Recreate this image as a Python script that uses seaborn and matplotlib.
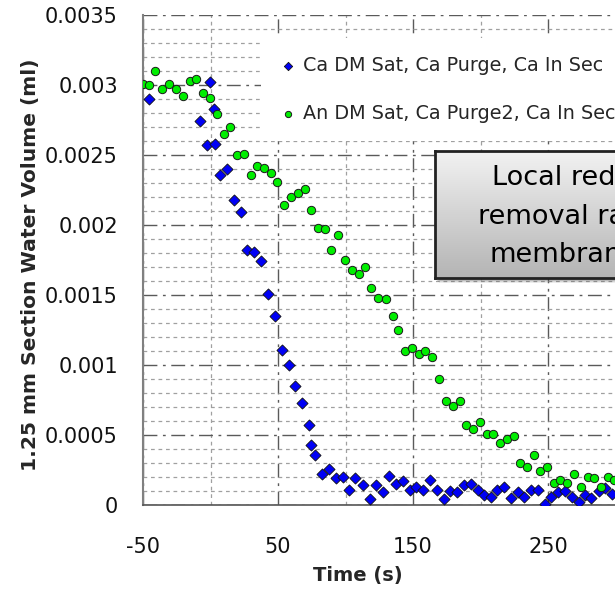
import numpy as np
import pandas as pd
import matplotlib
matplotlib.use("Agg")
import matplotlib.pyplot as plt
import seaborn as sns
from matplotlib.patches import Rectangle
from matplotlib.colors import LinearSegmentedColormap

# data
ca_time = [-45.3, -7.5, -2.4, -0.2, 2.3, 3.0, 7.4, 12.5, 17.5, 22.8, 27.0, 32.4, 37.4,
           42.6, 47.6, 53.0, 57.9, 62.7, 67.6, 72.8, 74.7, 77.3, 82.3, 87.5, 92.9, 97.9,
           102.3, 107.3, 112.7, 117.9, 122.7, 127.9, 132.4, 137.4, 142.6, 147.5, 152.2,
           157.3, 162.4, 167.8, 173.0, 177.6, 182.6, 187.5, 192.7, 197.9, 202.8, 207.5,
           212.4, 217.4, 222.6, 227.5, 232.4, 237.4, 242.3, 247.5, 252.4, 257.4, 262.3,
           267.8, 272.7, 277.1, 282.1, 287.5, 292.4, 297.4]
ca_volume = [0.00290, 0.00274, 0.00257, 0.00302, 0.00283, 0.00258, 0.00236, 0.00240,
             0.00218, 0.00209, 0.00182, 0.00181, 0.00174, 0.00151, 0.00135, 0.00111,
             0.00100, 0.00085, 0.00073, 0.00057, 0.00043, 0.00036, 0.00022, 0.00026,
             0.00019, 0.00020, 0.00011, 0.00019, 0.00014, 0.00004, 0.00014, 0.00009,
             0.00021, 0.00015, 0.00017, 0.00011, 0.00013, 0.00011, 0.00018, 0.00011,
             0.00004, 0.00010, 0.00009, 0.00014, 0.00015, 0.00011, 0.00007, 0.00006,
             0.00011, 0.00013, 0.00005, 0.00009, 0.00006, 0.00011, 0.00011, 0.00001,
             0.00006, 0.00009, 0.00010, 0.00006, 0.00002, 0.00007, 0.00005, 0.00010,
             0.00012, 0.00008]

an_time = [-50.0, -45.3, -40.9, -35.7, -30.5, -25.3, -20.4, -15.0, -10.5, -5.6, -0.2,
           4.8, 10.2, 14.2, 19.6, 24.8, 30.0, 34.7, 39.4, 44.5, 49.5, 54.7, 59.6, 64.8,
           69.7, 74.7, 79.6, 85.0, 89.4, 94.4, 99.3, 104.8, 110.0, 114.4, 119.1, 124.3,
           129.7, 134.9, 139.1, 144.3, 149.5, 154.2, 159.1, 164.3, 169.5, 174.4, 179.6,
           184.8, 189.3, 194.3, 199.4, 204.5, 209.0, 214.7, 219.3, 224.5, 229.5, 234.4,
           239.3, 244.3, 249.3, 254.2, 259.1, 264.1, 269.3, 274.4, 279.6, 284.3, 289.3,
           294.4, 299.1]
an_volume = [0.00301, 0.00300, 0.00310, 0.00297, 0.00301, 0.00297, 0.00292, 0.00303,
             0.00304, 0.00294, 0.00291, 0.00279, 0.00265, 0.00270, 0.00250, 0.00251,
             0.00236, 0.00242, 0.00241, 0.00237, 0.00231, 0.00214, 0.00220, 0.00223,
             0.00226, 0.00211, 0.00198, 0.00197, 0.00182, 0.00193, 0.00175, 0.00168,
             0.00165, 0.00170, 0.00155, 0.00148, 0.00147, 0.00135, 0.00125, 0.00110,
             0.00112, 0.00108, 0.00110, 0.00106, 0.00090, 0.00074, 0.00071, 0.00074,
             0.00057, 0.00054, 0.00059, 0.00051, 0.00051, 0.00044, 0.00047, 0.00049,
             0.00030, 0.00027, 0.00036, 0.00024, 0.00027, 0.00016, 0.00018, 0.00016,
             0.00022, 0.00013, 0.00020, 0.00019, 0.00013, 0.00020, 0.00018]

ca_label = "Ca DM Sat, Ca Purge, Ca In Sec"
an_label = "An DM Sat, Ca Purge2, Ca In Sec"

x_major = [-50, 50, 150, 250]
x_minor = [0, 100, 200, 300]
y_ticks = [0, 0.0005, 0.001, 0.0015, 0.002, 0.0025, 0.003, 0.0035]
y_labels = ["0", "0.0005", "0.001", "0.0015", "0.002", "0.0025", "0.003", "0.0035"]
note_lines = ["Local reduced", "removal rate", "membrane"]

sns.set_style("white")
plt.rcParams['font.family'] = ['DejaVu Sans']
plt.rcParams['axes.unicode_minus'] = False

W, H = 615, 593
fig = plt.figure(figsize=(W / 100, H / 100), dpi=100)
ax = fig.add_axes([143 / W, 88 / H, 540 / W, 490 / H])

ca_df = pd.DataFrame({"time": ca_time, "volume": ca_volume})
an_df = pd.DataFrame({"time": an_time, "volume": an_volume})

sns.scatterplot(data=ca_df, x="time", y="volume", marker="D", s=32, color="#0000f5",
                edgecolor="#111111", linewidth=0.6, label=ca_label, ax=ax, zorder=3)
sns.scatterplot(data=an_df, x="time", y="volume", marker="o", s=36, color="#00ee00",
                edgecolor="#1a1a1a", linewidth=0.7, label=an_label, ax=ax, zorder=3)

ax.set_xlim(-50, 350)
ax.set_ylim(0, 0.0035)
ax.set_xticks(x_major)
ax.set_xticks(x_minor, minor=True)
ax.set_yticks(y_ticks)
ax.set_yticklabels(y_labels)
ax.set_yticks(np.arange(0, 0.00351, 0.0001), minor=True)

ax.grid(which='major', color='#5a5a5a', linestyle=(0, (10, 4, 2, 4)), linewidth=1)
ax.grid(which='minor', color='#a0a0a0', linestyle=(0, (3, 3)), linewidth=0.9)
ax.set_axisbelow(True)

for side in ['top', 'right']:
    ax.spines[side].set_visible(False)
ax.spines['left'].set_color('#808080')
ax.spines['left'].set_linewidth(1.5)
ax.spines['bottom'].set_color('#555555')
ax.spines['bottom'].set_linewidth(1.2)

ax.tick_params(which='major', direction='out', length=7, width=1, color='#555555',
               labelsize=15, labelcolor='#111111')
ax.tick_params(axis='y', which='major', pad=11)
ax.tick_params(axis='x', which='major', pad=16)
ax.tick_params(which='minor', length=0)

ax.set_xlabel("Time (s)", fontsize=14, fontweight='bold')
ax.set_ylabel("1.25 mm Section Water Volume (ml)", fontsize=14.6, fontweight='bold')
ax.xaxis.set_label_coords((358 - 143) / 540, -0.125)
ax.yaxis.set_label_coords((40 - 143) / 540, 0.49)

ax.legend(loc='upper left', bbox_to_anchor=(251 / W, 1 - 28 / H), bbox_transform=fig.transFigure,
          frameon=True, facecolor='white', edgecolor='none', framealpha=1, fancybox=False,
          fontsize=13.8, labelspacing=1.5, handletextpad=0.25, handlelength=1.0,
          borderpad=0.95, markerscale=0.75)

# annotation box (cut off by the right edge, as in the source)
bx0, by0, bx1, by1 = 435, 151, 760, 278
for k, a in [(5, 0.10), (4, 0.15), (3, 0.2)]:
    fig.patches.append(Rectangle(((bx0 + k - 1) / W, 1 - (by1 + k) / H), (bx1 - bx0) / W,
                                 (by1 - by0) / H, transform=fig.transFigure,
                                 facecolor='#555555', alpha=a, edgecolor='none', zorder=4))
ax_box = fig.add_axes([bx0 / W, 1 - by1 / H, (bx1 - bx0) / W, (by1 - by0) / H], zorder=5)
grad = LinearSegmentedColormap.from_list("box", ["#f2f2f2", "#b4b4b4"])
ax_box.imshow(np.linspace(0, 1, 256).reshape(-1, 1), cmap=grad, aspect='auto',
              extent=[0, 1, 0, 1], origin='upper')
ax_box.set_xticks([])
ax_box.set_yticks([])
for sp in ax_box.spines.values():
    sp.set_color('#222222')
    sp.set_linewidth(2)
for line, lx, ly in zip(note_lines, [492, 478, 490], [185, 224, 262]):
    ax_box.text(lx / W, 1 - ly / H, line, transform=fig.transFigure, ha='left', va='baseline',
                fontsize=19.5, color='black')

fig.savefig("out.png", dpi=100)
